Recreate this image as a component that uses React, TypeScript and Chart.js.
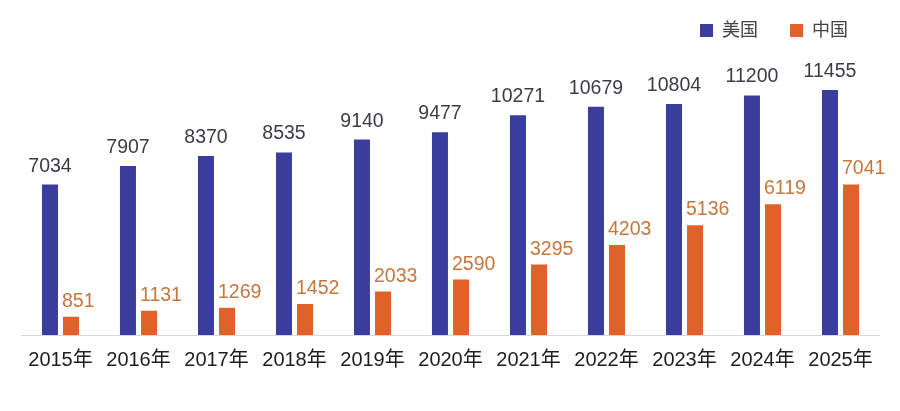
import React, { useEffect, useRef } from "react";
import { Chart, registerables } from "chart.js";

Chart.register(...registerables);

const years = ["2015年", "2016年", "2017年", "2018年", "2019年", "2020年", "2021年", "2022年", "2023年", "2024年", "2025年"];
const usValues = [7034, 7907, 8370, 8535, 9140, 9477, 10271, 10679, 10804, 11200, 11455];
const cnValues = [851, 1131, 1269, 1452, 2033, 2590, 3295, 4203, 5136, 6119, 7041];
const seriesNames = ["美国", "中国"];

const BLUE = "#3a3d9c";
const ORANGE = "#e0622a";
const FONT = "'Liberation Sans', 'Noto Sans CJK SC', sans-serif";

const labelPlugin = {
  id: "valueLabels",
  afterDatasetsDraw(chart: any) {
    const ctx = chart.ctx;
    ctx.save();
    ctx.font = `19.5px ${FONT}`;
    ctx.textBaseline = "alphabetic";
    chart.data.datasets.forEach((ds: any, di: number) => {
      const meta = chart.getDatasetMeta(di);
      meta.data.forEach((bar: any, i: number) => {
        const v = ds.data[i];
        if (di === 0) {
          ctx.fillStyle = "#3c3c46";
          ctx.textAlign = "center";
          ctx.fillText(String(v), bar.x, bar.y - 13);
        } else {
          ctx.fillStyle = "#c5773d";
          ctx.textAlign = "left";
          ctx.fillText(String(v), bar.x - bar.width / 2 - 1, bar.y - 10);
        }
      });
    });
    ctx.restore();
  },
};

const legendPlugin = {
  id: "customLegend",
  afterDraw(chart: any) {
    const ctx = chart.ctx;
    ctx.save();
    const items = [
      { x: 700, color: BLUE, text: seriesNames[0] },
      { x: 790, color: ORANGE, text: seriesNames[1] },
    ];
    ctx.font = `18px ${FONT}`;
    ctx.textBaseline = "middle";
    ctx.textAlign = "left";
    items.forEach((it) => {
      ctx.fillStyle = it.color;
      ctx.fillRect(it.x, 24, 13, 13);
      ctx.fillStyle = "#444444";
      ctx.fillText(it.text, it.x + 22, 31);
    });
    ctx.restore();
  },
};

export default function App() {
  const ref = useRef<HTMLCanvasElement | null>(null);
  useEffect(() => {
    if (!ref.current) return;
    const chart = new Chart(ref.current, {
      type: "bar",
      data: {
        labels: years,
        datasets: [
          { label: seriesNames[0], data: usValues, backgroundColor: BLUE, categoryPercentage: 0.54, barPercentage: 0.76 },
          { label: seriesNames[1], data: cnValues, backgroundColor: ORANGE, categoryPercentage: 0.54, barPercentage: 0.76 },
        ],
      },
      options: {
        responsive: false,
        animation: false,
        layout: { padding: { top: 57, bottom: 34, left: 21.5, right: 20.5 } },
        plugins: { legend: { display: false }, tooltip: { enabled: false } },
        scales: {
          x: {
            grid: { display: false },
            border: { display: true, color: "#d8d8d8", width: 1 },
            ticks: { color: "#1e1e1e", font: { size: 20, family: FONT }, padding: 5, maxRotation: 0, autoSkip: false },
          },
          y: { display: false, min: 0, max: 13000 },
        },
      },
      plugins: [labelPlugin, legendPlugin],
    });
    return () => chart.destroy();
  }, []);
  return (
    <div style={{ position: "absolute", left: 0, top: 0, width: 900, height: 411, background: "#fff" }}>
      <canvas ref={ref} width={900} height={411} />
    </div>
  );
}
